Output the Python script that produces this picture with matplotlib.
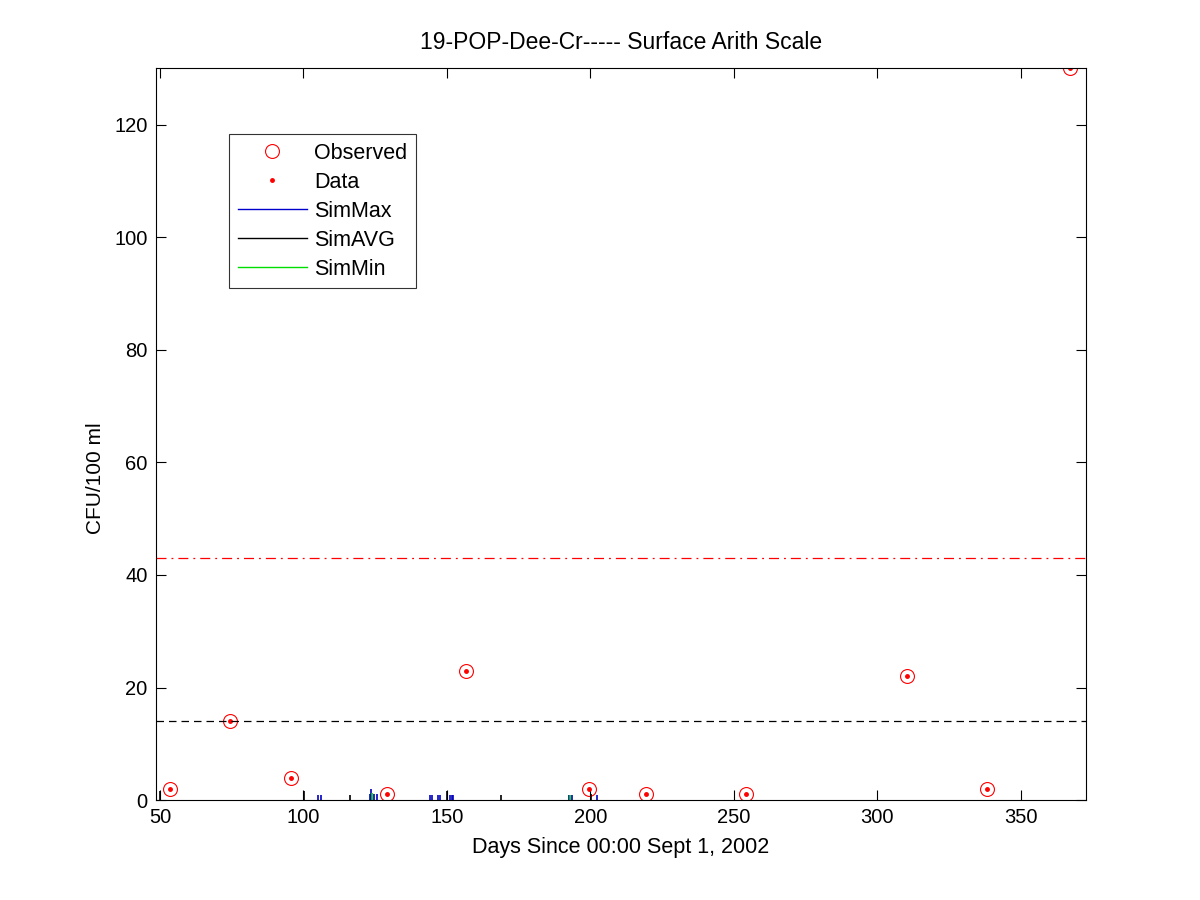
import numpy as np
import matplotlib
matplotlib.use("Agg")
import matplotlib.pyplot as plt

plt.rcParams['font.family'] = ['Liberation Sans', 'DejaVu Sans']

# observed samples (days since Sept 1, 2002 / CFU per 100 ml)
obs_days = [53.5, 74.3, 95.5, 129.3, 156.5, 199.4, 219.5, 254.4, 310.5, 338.4, 367.2]
obs_cfu = [2, 14, 4, 1, 23, 2, 1, 1, 22, 2, 130]

# simulated spikes
simmax_days = [105.1, 106.0, 123.1, 123.7, 124.7, 125.6, 144.2, 144.9, 146.9, 147.5,
               151.0, 151.7, 152.1, 192.5, 193.6, 202.3]
simmax_cfu = [0.9, 0.9, 1.0, 2.0, 1.0, 1.0, 0.9, 0.9, 0.9, 0.9, 0.9, 0.9, 0.9, 0.9, 0.9, 0.9]
simavg_days = [50.1, 100.2, 116.2, 150.1, 169.0, 200.1]
simavg_cfu = [1.65, 1.6, 0.9, 1.65, 0.9, 1.0]
simmin_days = [124.0, 193.0]
simmin_cfu = [1.2, 0.9]

# reference lines
geo_std = 14
single_std = 43

fig = plt.figure(figsize=(12, 9), dpi=100)
ax = fig.add_axes([0.13, 0.111, 0.775, 0.813])

ax.plot(obs_days, obs_cfu, 'o', mfc='none', mec='red', ms=10, mew=0.8, label='Observed')
ax.plot(obs_days, obs_cfu, '.', color='red', ms=5, label='Data')
ax.vlines(simmax_days, 0, simmax_cfu, colors='#0000bb', lw=1.2)
ax.vlines(simavg_days, 0, simavg_cfu, colors='black', lw=1.2)
ax.vlines(simmin_days, 0, simmin_cfu, colors='#00cc00', lw=1.2)
ax.plot([], [], color='#0000cc', lw=1.0, label='SimMax')
ax.plot([], [], color='black', lw=1.0, label='SimAVG')
ax.plot([], [], color='#00dd00', lw=1.0, label='SimMin')

ax.axhline(single_std, color='red', ls='-.', lw=0.9, dashes=(8, 4, 1.5, 4))
ax.axhline(geo_std, color='black', ls='--', lw=0.9, dashes=(6, 4))

ax.set_xlim(48.6, 372.8)
ax.set_ylim(0, 130)
ax.set_xticks(np.arange(50, 351, 50))
ax.set_yticks(np.arange(0, 121, 20))
ax.tick_params(direction='in', top=True, right=True, labelsize=14.5, length=7, width=0.8, pad=6)
for s in ax.spines.values():
    s.set_linewidth(0.8)

ax.set_title('19-POP-Dee-Cr----- Surface Arith Scale', fontsize=16.5, pad=14)
ax.set_xlabel('Days Since 00:00 Sept 1, 2002', fontsize=15.5, labelpad=7)
ax.set_ylabel('CFU/100 ml', fontsize=15)
ax.yaxis.set_label_coords(-0.055, 0.44)

leg = ax.legend(loc='upper left', bbox_to_anchor=(0.0785, 0.91), fontsize=15.5,
                frameon=True, fancybox=False, edgecolor='black', handlelength=3.2,
                borderaxespad=0, labelspacing=0.37, handletextpad=0.35, borderpad=0.4)
leg.get_frame().set_linewidth(0.8)

fig.savefig('out.png', dpi=100)
